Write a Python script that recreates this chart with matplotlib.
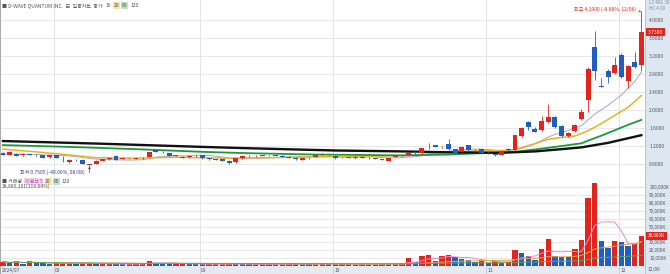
import matplotlib
matplotlib.use("Agg")
import matplotlib.pyplot as plt
import numpy as np
import pandas as pd

plt.rcParams['font.family'] = ['Noto Sans CJK KR', 'DejaVu Sans']

# daily candles, 2024-07-22 .. 2024-12-05 (US trading days)
holidays = ["2024-09-02", "2024-11-28"]

opens = [1.04, 1.00, 1.03, 0.99, 1.02, 1.00, 1.00, 0.95, 0.99, 0.95,
         0.84, 0.90, 0.90, 0.77, 0.81, 0.87, 0.91, 0.98, 0.92, 0.93,
         0.92, 0.93, 0.96, 1.11, 1.06, 1.04, 0.98, 0.96, 0.95, 0.97,
         1.00, 0.93, 0.90, 0.91, 0.87, 0.84, 0.93, 0.98, 0.97, 0.98,
         0.99, 1.00, 0.98, 0.96, 0.94, 0.90, 0.93, 0.96, 1.00, 1.00,
         0.98, 0.94, 0.94, 0.93, 0.96, 0.94, 0.92, 0.91, 0.87, 0.96,
         0.99, 1.00, 1.07, 1.04, 1.20, 1.22, 1.18, 1.25, 1.13, 1.07,
         1.22, 1.11, 1.13, 1.05, 1.02, 1.00, 1.14, 1.11, 1.42, 1.73,
         1.58, 1.56, 1.73, 1.84, 1.64, 1.42, 1.53, 1.80, 2.22, 3.40,
         2.54, 2.87, 2.82, 3.22, 2.65, 3.07, 3.00]
closes = [1.00, 1.07, 0.98, 1.03, 1.00, 0.995, 0.94, 0.99, 0.94, 0.955,
          0.90, 0.89, 0.81, 0.80, 0.87, 0.91, 0.94, 0.90, 0.93, 0.925,
          0.93, 0.94, 1.06, 1.07, 1.06, 0.98, 0.99, 0.94, 0.97, 0.98,
          0.93, 0.91, 0.91, 0.87, 0.82, 0.93, 0.98, 0.97, 0.98, 0.99,
          1.00, 0.98, 0.96, 0.94, 0.91, 0.93, 0.94, 1.00, 1.01, 0.99,
          0.93, 0.935, 0.95, 0.96, 0.94, 0.93, 0.915, 0.89, 0.93, 0.99,
          1.00, 1.04, 1.04, 1.15, 1.20, 1.18, 1.18, 1.13, 1.04, 1.18,
          1.11, 1.11, 1.05, 1.04, 0.99, 1.07, 1.11, 1.44, 1.60, 1.62,
          1.52, 1.76, 1.85, 1.62, 1.42, 1.49, 1.67, 1.96, 2.91, 2.87,
          2.52, 2.73, 3.00, 2.73, 2.98, 2.96, 3.73]
highs = [1.06, 1.08, 1.04, 1.04, 1.03, 1.02, 1.01, 1.00, 1.00, 0.97,
         0.92, 0.91, 0.91, 0.81, 0.88, 0.92, 0.95, 0.99, 0.94, 0.94,
         0.94, 0.95, 1.07, 1.12, 1.08, 1.05, 1.00, 0.97, 0.98, 0.99,
         1.01, 0.94, 0.92, 0.92, 0.88, 0.94, 0.99, 0.99, 0.99, 1.00,
         1.01, 1.01, 0.99, 0.97, 0.95, 0.94, 0.95, 1.01, 1.04, 1.01,
         0.99, 0.95, 0.96, 0.97, 0.97, 0.95, 0.93, 0.92, 0.94, 1.00,
         1.01, 1.05, 1.08, 1.16, 1.27, 1.23, 1.20, 1.35, 1.14, 1.19,
         1.23, 1.14, 1.14, 1.06, 1.03, 1.08, 1.15, 1.45, 1.62, 1.76,
         1.62, 1.87, 2.13, 1.86, 1.66, 1.51, 1.69, 2.02, 2.95, 3.76,
         2.72, 2.91, 3.18, 3.26, 3.00, 3.29, 4.19]
lows = [0.99, 0.99, 0.97, 0.98, 0.99, 0.98, 0.93, 0.94, 0.93, 0.85,
        0.83, 0.87, 0.80, 0.7505, 0.80, 0.86, 0.90, 0.89, 0.91, 0.92,
        0.91, 0.92, 0.95, 1.06, 1.04, 0.97, 0.97, 0.93, 0.94, 0.96,
        0.92, 0.90, 0.89, 0.86, 0.81, 0.83, 0.92, 0.96, 0.96, 0.97,
        0.98, 0.97, 0.95, 0.93, 0.90, 0.89, 0.92, 0.95, 0.99, 0.98,
        0.92, 0.93, 0.93, 0.92, 0.93, 0.92, 0.91, 0.88, 0.86, 0.95,
        0.98, 0.99, 1.03, 1.03, 1.14, 1.17, 1.15, 1.12, 1.03, 1.06,
        1.10, 1.09, 1.04, 1.03, 0.98, 0.99, 1.10, 1.10, 1.40, 1.55,
        1.50, 1.54, 1.70, 1.60, 1.40, 1.40, 1.51, 1.78, 1.96, 2.67,
        2.50, 2.60, 2.80, 2.72, 2.49, 2.94, 2.87]
# volume in thousand shares
volumes = [5500, 3400, 6000, 2600, 6400, 3400, 3200, 2800, 3400, 3600,
           3800, 3000, 3400, 3600, 2200, 2500, 2800, 2600, 2200, 2400,
           2600, 2800, 6800, 3400, 3200, 2800, 2900, 3000, 2600, 2400,
           2200, 2300, 2600, 2800, 3000, 2400, 2200, 2000, 2100, 2300,
           2200, 2000, 2100, 4200, 2400, 2300, 2200, 2400, 4200, 2200,
           2000, 2100, 2000, 2200, 2400, 2200, 2600, 2800, 2600, 2900,
           3200, 9800, 4700, 13200, 14000, 6400, 13200, 13500, 11000, 9400,
           7700, 5100, 7700, 4300, 6000, 3400, 5100, 20500, 16500, 13000,
           8000, 22000, 34500, 13000, 12000, 11000, 22000, 33500, 86000, 105000,
           32000, 23000, 32000, 31000, 25000, 28000, 38085]

# moving average lines (candle index, price)
ma20_idx = [0, 5, 10, 14, 20, 26, 33, 40, 48, 55, 62, 67, 72, 76, 78, 80, 82, 84, 86, 88, 90, 92, 94, 96]
ma20_val = [1.13, 1.07, 1.00, 0.94, 0.93, 0.95, 0.93, 0.94, 0.96, 0.97, 1.00, 1.06, 1.10, 1.10,
            1.15, 1.25, 1.35, 1.39, 1.42, 1.54, 1.70, 1.88, 2.06, 2.32]
ma60_idx = [0, 10, 20, 30, 37, 47, 55, 60, 67, 72, 77, 82, 87, 88, 90, 92, 94, 96]
ma60_val = [1.22, 1.18, 1.13, 1.07, 1.04, 1.01, 1.00, 0.99, 1.01, 1.04, 1.07, 1.16, 1.26, 1.32,
            1.43, 1.55, 1.67, 1.78]
ma120_idx = [0, 15, 30, 37, 50, 60, 67, 75, 80, 84, 87, 91, 96]
ma120_val = [1.31, 1.25, 1.18, 1.15, 1.10, 1.08, 1.06, 1.05, 1.08, 1.13, 1.17, 1.27, 1.44]

price_ticks = [0.8, 1.2, 1.6, 2.0, 2.4, 2.8, 3.2, 3.6, 4.0]
vol_ticks = [10000, 20000, 30000, 40000, 50000, 60000, 70000, 80000, 90000, 100000]

RED = '#e3241c'
BLUE = '#1f5fc4'
GRID = '#e4e4e4'
TXT = '#555555'

dates = pd.bdate_range("2024-07-22", "2024-12-05")
dates = dates[~dates.isin(pd.to_datetime(holidays))]
n = len(dates)
x = np.arange(n)
o = np.array(opens)
c = np.array(closes)
vol = np.array(volumes)

W, H = 670, 274
fig = plt.figure(figsize=(W / 100, H / 100), dpi=100)


def box(l, t, r, b):
    return [l / W, 1 - b / H, (r - l) / W, (b - t) / H]


side = fig.add_axes(box(645, 0, 670, 274), facecolor='#dde7f2')
side.set_xticks([])
side.set_yticks([])
for s in side.spines.values():
    s.set_visible(False)

ax = fig.add_axes(box(0, 0, 645, 178))
axv = fig.add_axes(box(0, 178, 645, 266))
axd = fig.add_axes(box(0, 266, 645, 274), facecolor='#e4eaf1')

xlim = (-0.45, n - 0.45)
for a in (ax, axv, axd):
    a.set_xlim(*xlim)
    a.set_xticks([])
    a.spines['top'].set_visible(False)
    a.spines['left'].set_color('#9a9a9a')
    a.spines['right'].set_color('#b0bccb')
    a.spines['bottom'].set_color('#9a9a9a')
    for s in a.spines.values():
        s.set_linewidth(0.6)
axd.set_yticks([])

# price panel
ax.set_ylim(0.489, 4.444)
ax.yaxis.tick_right()
ax.set_yticks(price_ticks)
ax.set_yticklabels([f"{v:.4f}" for v in price_ticks])
ax.tick_params(axis='y', length=0, pad=3, labelsize=3.5, labelcolor=TXT)
ax.grid(axis='y', color=GRID, lw=0.6, zorder=0)

up = c >= o
ccol = np.where(up, RED, BLUE)
body_lo = np.minimum(o, c)
body_h = np.maximum(np.abs(c - o), 0.008)
ax.vlines(x, lows, highs, colors=ccol, lw=0.6, zorder=3)
ax.bar(x, body_h, bottom=body_lo, width=0.74, color=ccol, zorder=4)

ma10 = pd.Series(c).rolling(10, min_periods=1).mean()
ax.plot(x, ma10, color='#a4a4cf', lw=0.7, zorder=2)
ax.plot(ma20_idx, ma20_val, color='#eab223', lw=1.1, zorder=2)
ax.plot(ma60_idx, ma60_val, color='#1b9a3b', lw=1.3, zorder=2)
ax.plot(ma120_idx, ma120_val, color='#111111', lw=1.7, zorder=2)

# last price tag
ax.annotate(f"{c[-1]:.4f}", xy=(1.0, c[-1]), xycoords=('axes fraction', 'data'),
            xytext=(2, 0), textcoords='offset points', ha='left', va='center',
            fontsize=3.5, color='white', annotation_clip=False, zorder=6,
            bbox=dict(boxstyle='square,pad=0.35', fc=RED, ec='none'))

# high / low marks
ih = int(np.argmax(highs))
il = int(np.argmin(lows))
ax.annotate(f"최고 {highs[ih]:.4f} (-8.88%, {dates[ih] + pd.Timedelta(days=1):%m/%d})",
            xy=(ih, highs[ih]), xytext=(ih - 0.8, highs[ih] + 0.05),
            ha='right', va='center', fontsize=3.6, color=RED,
            arrowprops=dict(arrowstyle='->', color=RED, lw=0.4, shrinkA=0, shrinkB=0))
ax.annotate("", xy=(il, lows[il]), xytext=(il, lows[il] - 0.14),
            arrowprops=dict(arrowstyle='-|>', color='#3a3a9a', lw=0.5,
                            mutation_scale=3, shrinkA=0, shrinkB=0))
ax.text(il - 0.7, lows[il] - 0.13, f"최저 {lows[il]:.4f} (-40.00%, {dates[il]:%m/%d})",
        ha='right', va='center', fontsize=3.6, color='#3a3a9a')

# volume panel
axv.set_ylim(0, 111500)
axv.yaxis.tick_right()
axv.set_yticks(vol_ticks)
axv.set_yticklabels([f"{v:,}K" for v in vol_ticks])
axv.tick_params(axis='y', length=0, pad=3, labelsize=3.3, labelcolor=TXT)
axv.grid(axis='y', color=GRID, lw=0.6, zorder=0)

vcol = [RED] + [RED if vol[i] >= vol[i - 1] else BLUE for i in range(1, n)]
axv.bar(x, vol, width=0.8, color=vcol, zorder=3)
vs = pd.Series(vol)
axv.plot(x, vs.rolling(5, min_periods=1).mean(), color='#e48ad2', lw=0.7, zorder=4)
axv.plot(x, vs.rolling(20, min_periods=1).mean(), color='#f2a23a', lw=0.7, zorder=4)
axv.plot(x, vs.rolling(60, min_periods=1).mean(), color='#5aa55a', lw=0.7, zorder=4)
axv.annotate(f"{vol[-1]:,}K", xy=(1.0, vol[-1]), xycoords=('axes fraction', 'data'),
             xytext=(2, 0), textcoords='offset points', ha='left', va='center',
             fontsize=3.3, color='white', annotation_clip=False, zorder=6,
             bbox=dict(boxstyle='square,pad=0.35', fc=RED, ec='none'))

# month separators and date strip
mstarts = [i for i in range(1, n) if dates[i].month != dates[i - 1].month]
for i in mstarts:
    for a in (ax, axv):
        a.axvline(i - 0.35, color=GRID, lw=0.7, zorder=0)
    axd.axvline(i - 0.35, color='#c4ccd6', lw=0.6)
    axd.text(i - 0.2, 0.45, f"{dates[i].month:02d}", fontsize=3.5, color=TXT,
             ha='left', va='center', transform=axd.get_xaxis_transform())
axd.text(-0.2, 0.45, f"{dates[0]:%Y/%m}", fontsize=3.5, color=TXT,
         ha='left', va='center', transform=axd.get_xaxis_transform())
fig.text(648 / W, 1 - 270 / H, f"{dates[-1] + pd.Timedelta(days=1):%m/%d}",
         fontsize=3.5, color=TXT, ha='left', va='center')

# right strip header
fig.text(649 / W, 1 - 3 / H, "LC 401.30", fontsize=3.3, color='#7a8fb0', ha='left', va='center')
fig.text(649 / W, 1 - 8 / H, "HC 4.00", fontsize=3.3, color='#7a8fb0', ha='left', va='center')


def chain(parent, x0, y0, parts):
    t = parent.text(x0 / W, 1 - y0 / H, parts[0][0], fontsize=3.6, color=parts[0][1],
                    ha='left', va='baseline', transform=fig.transFigure)
    for s, col, bg in parts[1:]:
        kw = {}
        if bg:
            kw['bbox'] = dict(boxstyle='square,pad=0.15', fc=bg, ec='none')
        t = parent.annotate(s, xy=(1, 0), xycoords=t, xytext=(2, 0), textcoords='offset points',
                            fontsize=3.6, color=col, ha='left', va='bottom',
                            annotation_clip=False, **kw)


chain(ax, 2, 7, [("■ D-WAVE QUANTUM INC.  日  일봉차트  종가", TXT, None),
                 ("10", TXT, None), ("20", TXT, '#f6e6a0'), ("60", TXT, '#bfe6c4'), ("120", TXT, None)])
chain(axv, 2, 183, [("■ 거래량", TXT, None), ("이평선 5", '#c050b0', '#f6d8ef'),
                    ("20", TXT, '#f6e6a0'), ("60", TXT, '#bfe6c4'), ("120", TXT, None)])
axv.text(2 / W, 1 - 188 / H, f"{vol[-1] * 1000 + 101:,}(119.84%)", fontsize=3.6, color=TXT,
         ha='left', va='baseline', transform=fig.transFigure)

fig.savefig("out.png", dpi=100)
